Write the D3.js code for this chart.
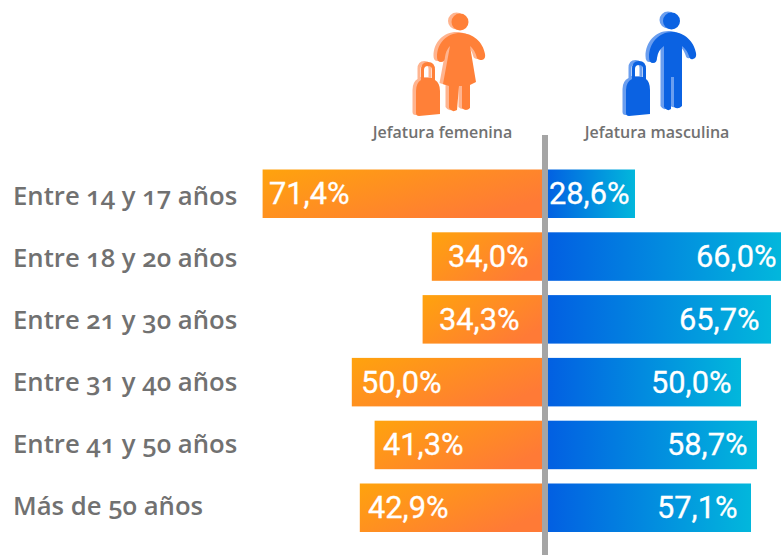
<!DOCTYPE html>
<html><head><meta charset="utf-8">
<script src="https://cdn.jsdelivr.net/npm/d3@7"></script>
<style>html,body{margin:0;padding:0;background:#fff}svg{display:block}</style>
</head><body><svg id="c" width="781" height="555"></svg>
<script>
const categories = ["Entre 14 y 17 años","Entre 18 y 20 años","Entre 21 y 30 años","Entre 31 y 40 años","Entre 41 y 50 años","Más de 50 años"];
const femaleLabels = [71.4,34.0,34.3,50.0,41.3,42.9];
const maleLabels = [28.6,66.0,65.7,50.0,58.7,57.1];
// The source bars are not proportional to their printed labels: these are the lengths.
const femaleDrawn = [70.6,28.3,30.6,48.3,42.6,46.3];
const maleDrawn = [22.5,59.0,56.5,49.0,53.0,51.5];
const seriesNames = ["Jefatura femenina","Jefatura masculina"];

const svg = d3.select("#c");
const cx = 545, unit = 400;
const xL = d3.scaleLinear().domain([0,100]).range([cx,cx-unit]);
const xR = d3.scaleLinear().domain([0,100]).range([cx,cx+unit]);
const y = d3.scaleBand().domain(categories).range([169.5,532]).paddingInner(0.2277).paddingOuter(0);
const yLabel = d3.scalePoint().domain(categories).range([205,515]);
const fmt = v => v.toFixed(1).replace(".",",")+"%";

const defs = svg.append("defs");
const gf = defs.append("linearGradient").attr("id","gf").attr("x1","0").attr("y1","0").attr("x2","1").attr("y2","0.6");
gf.append("stop").attr("offset","0").attr("stop-color","#ffa30d");
gf.append("stop").attr("offset","1").attr("stop-color","#ff7a36");
const gm = defs.append("linearGradient").attr("id","gm").attr("x1","0").attr("y1","0").attr("x2","1").attr("y2","0");
gm.append("stop").attr("offset","0").attr("stop-color","#025ee2");
gm.append("stop").attr("offset","1").attr("stop-color","#02b7dc");

const rows = categories.map((c,i)=>({c,i}));
svg.selectAll(".bf").data(rows).join("rect").attr("x",d=>xL(femaleDrawn[d.i])).attr("y",d=>y(d.c))
  .attr("width",d=>xL(0)-xL(femaleDrawn[d.i])).attr("height",y.bandwidth()).attr("fill","url(#gf)");
svg.selectAll(".bm").data(rows).join("rect").attr("x",xR(0)).attr("y",d=>y(d.c))
  .attr("width",d=>xR(maleDrawn[d.i])-xR(0)).attr("height",y.bandwidth()).attr("fill","url(#gm)");
svg.append("rect").attr("x",542).attr("y",135).attr("width",6).attr("height",420).attr("fill","#a5a5a5");

svg.selectAll(".lc").data(rows).join("text").attr("x",13).attr("y",d=>yLabel(d.c))
  .text(d=>d.c).attr("fill","#717171").style("font","600 25.7px 'Open Sans'").style("font-variant-numeric","oldstyle-nums");

const lblStyle="400 30.8px Roboto";
const femaleTextLeft=[269,448,439,361,383,368], maleTextLeft=[549,696,679,651,667,657];
svg.selectAll(".vf").data(rows).join("text")
  .attr("x",d=>femaleTextLeft[d.i]).attr("y",d=>y(d.c)+y.bandwidth()/2+10.5)
  .text(d=>fmt(femaleLabels[d.i])).attr("fill","#fff").attr("stroke","#fff").attr("stroke-width",0.3).style("font",lblStyle);
svg.selectAll(".vm").data(rows).join("text")
  .attr("x",d=>maleTextLeft[d.i]).attr("y",d=>y(d.c)+y.bandwidth()/2+10.5)
  .text(d=>fmt(maleLabels[d.i])).attr("fill","#fff").attr("stroke","#fff").attr("stroke-width",0.3).style("font",lblStyle);

svg.selectAll(".h").data(seriesNames).join("text").attr("x",(d,i)=>[442.5,657][i]).attr("y",138).attr("text-anchor","middle")
  .text(d=>d).attr("fill","#717171").style("font","600 16px 'Open Sans'");

// Pictograms
function woman(g){
  g.append("circle").attr("cx",460).attr("cy",22).attr("r",8.5);
  g.append("path").attr("d","M460 33 C447 33 437 43 437 57 Q437 62 441 62 Q445 62 445 57 Q446 50 450 46 L443 84 L449 86 L449 108 Q452 113 457 110 L459 86 L462 86 L462 108 Q466 112 470 108 L470 85 L476 82 L470 46 Q475 50 477 58 Q478 60 482 60 Q486 59 485 54 C483 42 473 33 460 33Z");
}
function man(g){
  g.append("circle").attr("cx",671.5).attr("cy",21).attr("r",8.5);
  g.append("path").attr("d","M672 32 C659 32 649 43 649 57 Q649 63 653 63 Q657 63 657 58 Q658 50 664 46 L664 107 Q667 112 671 109 L671 77 L674 77 L674 107 Q678 110 682 106 L682 46 Q687 50 689 56 Q690 60 693 59 Q697 58 696 53 C694 42 685 32 672 32Z");
}
function bagF(g){
  g.append("path").attr("fill-rule","evenodd").attr("d","M421 80 L421 70 Q421 62 428 62 Q435 62 435 70 L435 80 Q440 83 440 91 L440 114 L419 116 Q416 116 416 113 L416 91 Q416 83 421 80Z M424 78 L432 78 L432 70 Q432 66 428 66 Q424 66 424 70Z");
}
function bagM(g){
  g.append("path").attr("fill-rule","evenodd").attr("d","M632 79 L632 69 Q632 61 639 61 Q646 61 646 69 L646 79 Q650 82 650 90 L650 114 L629 116 Q626 116 626 113 L626 90 Q626 82 632 79Z M635 77 L643 77 L643 69 Q643 65 639 65 Q635 65 635 69Z");
}
function layer(fn,dark,light,dx){
  fn(svg.append("g").attr("fill",light).attr("transform",`translate(${dx},-1)`));
  fn(svg.append("g").attr("fill",dark));
}
layer(woman,"#ff8038","#ffb48f",-3.5);
layer(bagF,"#ff8038","#ffb48f",-3.5);
layer(man,"#0b62e2","#6a9eef",-3.5);
layer(bagM,"#0b62e2","#6a9eef",-3.5);
</script></body></html>
